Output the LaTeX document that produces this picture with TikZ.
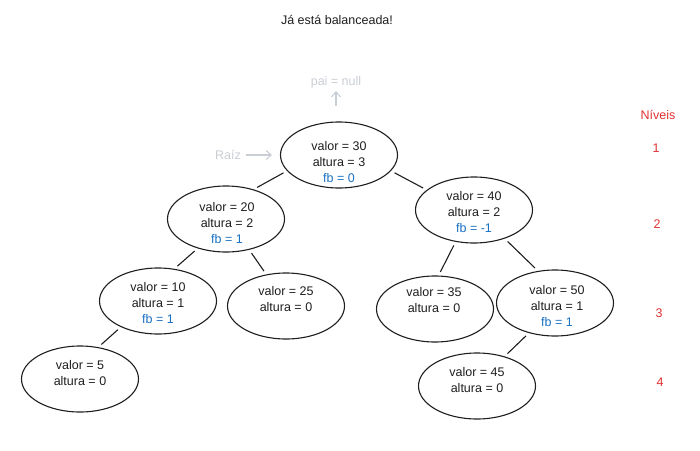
\documentclass[tikz,border=0pt]{standalone}
\usepackage{fontspec}
\setmainfont{Liberation Sans}
\usetikzlibrary{shapes.geometric,arrows.meta}
\definecolor{ink}{HTML}{1E1E1E}
\definecolor{fbblue}{HTML}{1971C2}
\definecolor{lvlred}{HTML}{E03131}
\definecolor{hint}{HTML}{C9CED4}
\tikzset{
  ell/.style={ellipse,draw=ink,line width=1.1pt,minimum width=117pt,minimum height=66pt,inner sep=0pt},
  txt/.style={align=center,text=ink,font=\fontsize{12.5}{16}\selectfont,inner sep=0pt},
  edge/.style={draw=ink,line width=1.1pt,shorten <=4pt,shorten >=4pt},
  hinttxt/.style={text=hint,font=\fontsize{12.5}{15}\selectfont,inner sep=1pt},
  hintarrow/.style={draw=hint,line width=1.1pt,-{Straight Barb[length=5pt,width=9pt]}},
  lvl/.style={text=lvlred,font=\fontsize{12.5}{15}\selectfont,inner sep=0pt}
}
\newcommand{\fbl}[1]{\textcolor{fbblue}{#1}}
\begin{document}
\begin{tikzpicture}[x=1pt,y=-1pt]
\useasboundingbox (0,0) rectangle (700,450);
\node[txt] (title) at (337,20) {Já está balanceada!};
% nodes
\node[ell] (n30) at (339,155) {};
\node[txt] (t30) at (339,162) {valor = 30\\altura = 3\\\fbl{fb = 0}};
\node[ell] (n20) at (226,219) {};
\node[txt] (t20) at (227,223) {valor = 20\\altura = 2\\\fbl{fb = 1}};
\node[ell] (n40) at (474,210) {};
\node[txt] (t40) at (474,212) {valor = 40\\altura = 2\\\fbl{fb = -1}};
\node[ell] (n10) at (158,301) {};
\node[txt] (t10) at (158,303) {valor = 10\\altura = 1\\\fbl{fb = 1}};
\node[ell] (n25) at (286,306) {};
\node[txt] (t25) at (286,299) {valor = 25\\altura = 0};
\node[ell] (n35) at (435,309) {};
\node[txt] (t35) at (434,300) {valor = 35\\altura = 0};
\node[ell] (n50) at (555,303) {};
\node[txt] (t50) at (557,306) {valor = 50\\altura = 1\\\fbl{fb = 1}};
\node[ell] (n5) at (80,379) {};
\node[txt] (t5) at (80,373) {valor = 5\\altura = 0};
\node[ell] (n45) at (477,386) {};
\node[txt] (t45) at (477,380) {valor = 45\\altura = 0};
% edges
\draw[edge] (n30.197) -- (n20.47);
\draw[edge] (n30.343) -- (n40.157);
\draw[edge] (n20.226) -- (n10.63);
\draw[edge] (n20.307) -- (n25.122);
\draw[edge] (n40.240) -- (n35.84);
\draw[edge] (n40.317) -- (n50.118);
\draw[edge] (n10.215) -- (n5.60);
\draw[edge] (n50.229) -- (n45.47);
% hints
\node[hinttxt] (pai) at (336,82) {pai = null};
\coordinate (paiFrom) at (336,106);
\draw[hintarrow,shorten >=2pt] (paiFrom) -- (pai);
\node[hinttxt] (raiz) at (228,155) {Raíz};
\draw[hintarrow,shorten <=4pt,shorten >=8pt] (raiz) -- (n30.west);
% levels
\node[lvl] (niv) at (658,115) {Níveis};
\node[lvl] (l1) at (656,148) {1};
\node[lvl] (l2) at (657,224) {2};
\node[lvl] (l3) at (659,313) {3};
\node[lvl] (l4) at (660,382) {4};
\end{tikzpicture}
\end{document}
